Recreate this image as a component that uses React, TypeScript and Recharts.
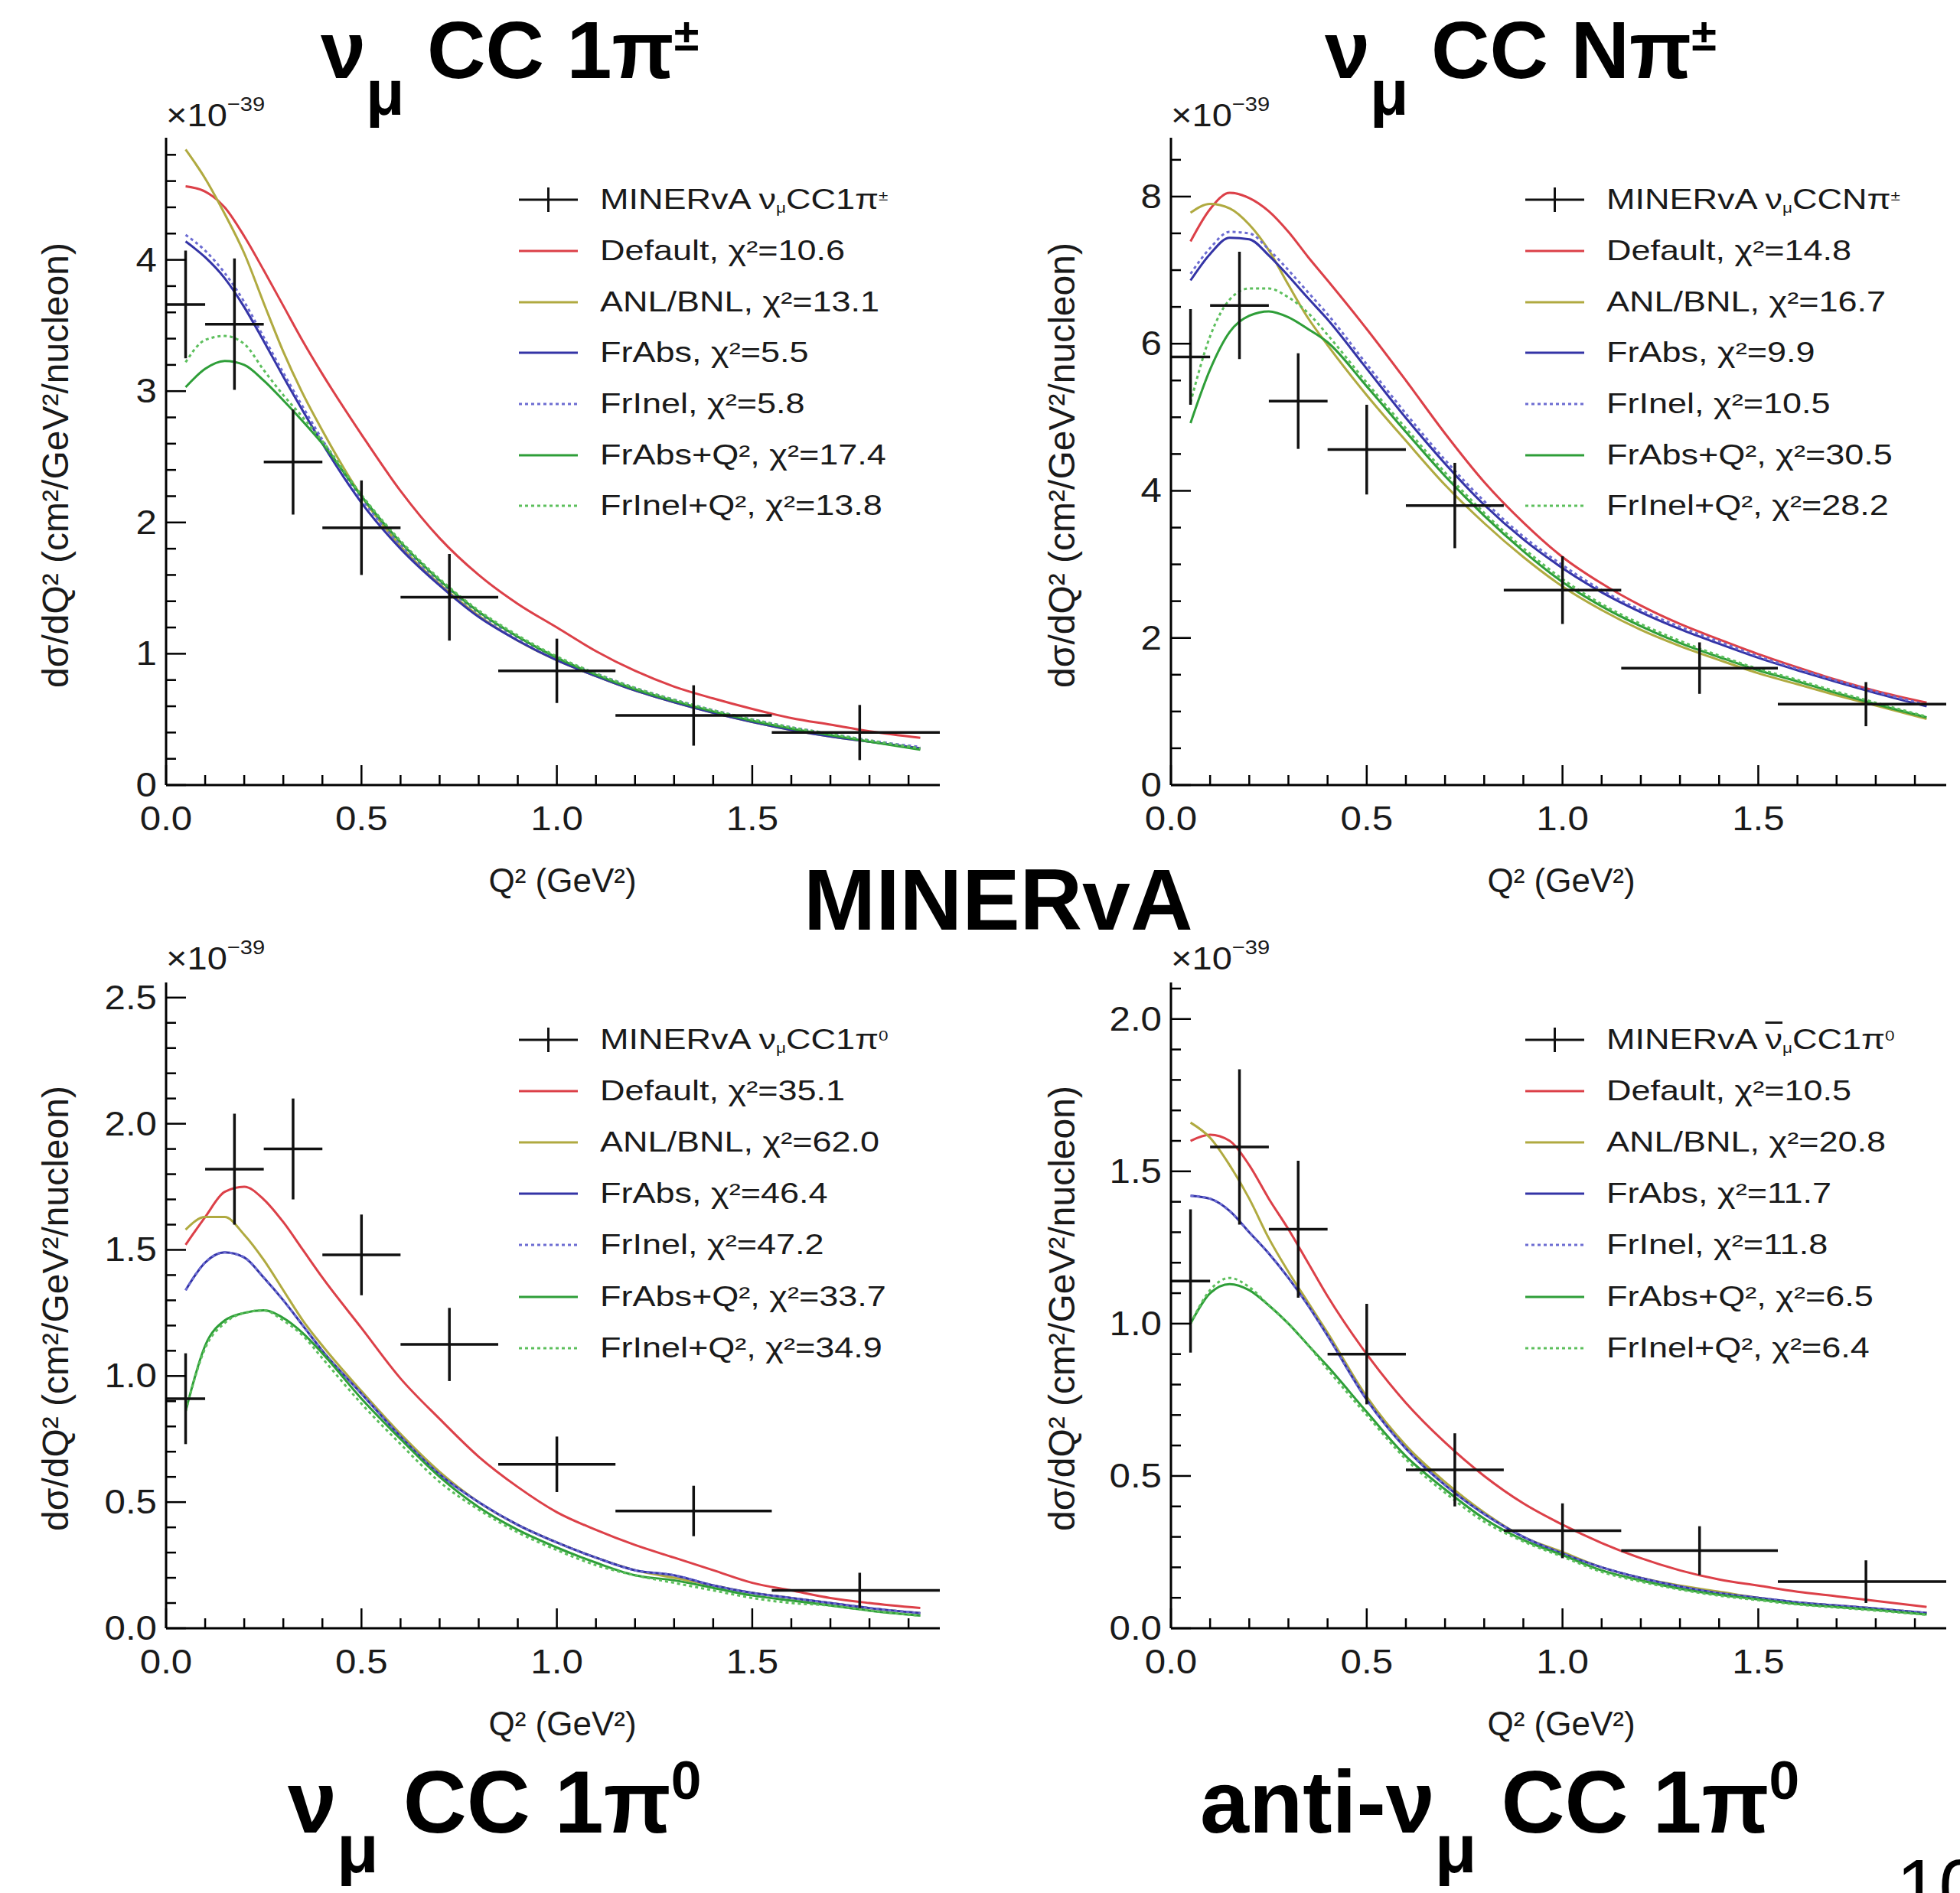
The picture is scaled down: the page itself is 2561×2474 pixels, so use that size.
import React from 'react'
import { ComposedChart, Line, Scatter, ErrorBar, XAxis, YAxis, Legend } from 'recharts'

const FONT = '"Liberation Sans", Arial, Helvetica, sans-serif'

// Q² bins of the MINERvA points (GeV²)
const BIN_CENTERS = [0.05, 0.175, 0.325, 0.5, 0.725, 1.0, 1.35, 1.775]
const BIN_HALF_WIDTHS = [0.05, 0.075, 0.075, 0.1, 0.125, 0.15, 0.2, 0.225]

const Q2_GRID = [0.05, 0.1, 0.15, 0.2, 0.25, 0.3, 0.35, 0.4, 0.5, 0.6, 0.7, 0.8, 0.9, 1.0, 1.1, 1.2, 1.3, 1.4, 1.5, 1.6, 1.7, 1.8, 1.93]

const X_TICKS = [0, 0.1, 0.2, 0.3, 0.4, 0.5, 0.6, 0.7, 0.8, 0.9, 1.0, 1.1, 1.2, 1.3, 1.4, 1.5, 1.6, 1.7, 1.8, 1.9]
const X_MAX = 1.98

// numu CC 1pi+-
const PIPM_DATA = [3.66, 3.51, 2.46, 1.96, 1.43, 0.87, 0.53, 0.4]
const PIPM_ERR = [0.41, 0.5, 0.4, 0.36, 0.33, 0.245, 0.23, 0.21]
const PIPM_DEFAULT = [4.56, 4.52, 4.4, 4.18, 3.92, 3.65, 3.38, 3.13, 2.67, 2.24, 1.88, 1.6, 1.38, 1.2, 1.02, 0.87, 0.75, 0.66, 0.58, 0.51, 0.46, 0.41, 0.36]
const PIPM_ANLBNL = [4.84, 4.62, 4.35, 4.05, 3.67, 3.3, 2.98, 2.7, 2.2, 1.82, 1.53, 1.29, 1.1, 0.95, 0.83, 0.72, 0.63, 0.55, 0.48, 0.42, 0.37, 0.33, 0.28]
const PIPM_FRABS = [4.14, 4.02, 3.86, 3.64, 3.38, 3.11, 2.85, 2.6, 2.15, 1.8, 1.52, 1.28, 1.1, 0.95, 0.83, 0.72, 0.63, 0.55, 0.48, 0.42, 0.37, 0.33, 0.28]
const PIPM_FRINEL = [4.19, 4.07, 3.9, 3.68, 3.41, 3.14, 2.88, 2.63, 2.18, 1.83, 1.55, 1.31, 1.12, 0.97, 0.85, 0.74, 0.65, 0.57, 0.5, 0.44, 0.39, 0.34, 0.29]
const PIPM_FRABS_Q2 = [3.03, 3.17, 3.23, 3.2, 3.08, 2.93, 2.77, 2.6, 2.2, 1.85, 1.56, 1.32, 1.13, 0.97, 0.84, 0.73, 0.64, 0.56, 0.49, 0.43, 0.38, 0.33, 0.27]
const PIPM_FRINEL_Q2 = [3.22, 3.39, 3.42, 3.36, 3.16, 2.97, 2.8, 2.62, 2.21, 1.86, 1.57, 1.33, 1.14, 0.98, 0.85, 0.74, 0.65, 0.57, 0.5, 0.44, 0.39, 0.34, 0.28]
const PIPM_CHI2 = ['10.6', '13.1', '5.5', '5.8', '17.4', '13.8']
const PIPM_Y_TICKS = [0, 0.2, 0.4, 0.6, 0.8, 1, 1.2, 1.4, 1.6, 1.8, 2, 2.2, 2.4, 2.6, 2.8, 3, 3.2, 3.4, 3.6, 3.8, 4, 4.2, 4.4, 4.6, 4.8]

// numu CC Npi+-
const NPI_DATA = [5.82, 6.52, 5.22, 4.56, 3.8, 2.65, 1.59, 1.1]
const NPI_ERR = [0.65, 0.73, 0.65, 0.61, 0.58, 0.46, 0.35, 0.3]
const NPI_DEFAULT = [7.39, 7.83, 8.05, 7.98, 7.8, 7.52, 7.18, 6.86, 6.2, 5.5, 4.78, 4.12, 3.57, 3.1, 2.74, 2.44, 2.19, 1.98, 1.78, 1.6, 1.43, 1.28, 1.12]
const NPI_ANLBNL = [7.78, 7.9, 7.84, 7.62, 7.27, 6.8, 6.35, 5.98, 5.3, 4.68, 4.08, 3.56, 3.1, 2.7, 2.38, 2.11, 1.89, 1.7, 1.52, 1.37, 1.22, 1.08, 0.9]
const NPI_FRABS = [6.86, 7.22, 7.44, 7.42, 7.2, 6.92, 6.62, 6.33, 5.66, 4.99, 4.37, 3.81, 3.34, 2.95, 2.62, 2.35, 2.12, 1.92, 1.73, 1.56, 1.4, 1.25, 1.07]
const NPI_FRINEL = [6.95, 7.3, 7.52, 7.5, 7.28, 7.0, 6.7, 6.4, 5.72, 5.05, 4.42, 3.86, 3.38, 2.99, 2.65, 2.38, 2.15, 1.95, 1.75, 1.58, 1.42, 1.27, 1.09]
const NPI_FRABS_Q2 = [4.92, 5.65, 6.16, 6.38, 6.44, 6.36, 6.2, 6.02, 5.42, 4.8, 4.2, 3.66, 3.18, 2.76, 2.43, 2.16, 1.93, 1.74, 1.56, 1.41, 1.25, 1.1, 0.92]
const NPI_FRINEL_Q2 = [5.2, 6.1, 6.6, 6.75, 6.75, 6.63, 6.42, 6.12, 5.47, 4.85, 4.25, 3.7, 3.22, 2.8, 2.46, 2.19, 1.96, 1.76, 1.58, 1.43, 1.27, 1.12, 0.93]
const NPI_CHI2 = ['14.8', '16.7', '9.9', '10.5', '30.5', '28.2']
const NPI_Y_TICKS = [0, 0.5, 1, 1.5, 2, 2.5, 3, 3.5, 4, 4.5, 5, 5.5, 6, 6.5, 7, 7.5, 8, 8.5]

// numu CC 1pi0
const PI0_DATA = [0.91, 1.82, 1.9, 1.48, 1.125, 0.65, 0.465, 0.15]
const PI0_ERR = [0.18, 0.22, 0.2, 0.16, 0.145, 0.11, 0.1, 0.07]
const PI0_DEFAULT = [1.52, 1.63, 1.73, 1.75, 1.7, 1.61, 1.5, 1.39, 1.19, 0.99, 0.83, 0.68, 0.56, 0.46, 0.39, 0.33, 0.28, 0.23, 0.18, 0.15, 0.12, 0.1, 0.08]
const PI0_ANLBNL = [1.58, 1.63, 1.63, 1.56, 1.46, 1.34, 1.22, 1.12, 0.94, 0.77, 0.62, 0.5, 0.41, 0.34, 0.28, 0.23, 0.2, 0.17, 0.14, 0.12, 0.1, 0.08, 0.06]
const PI0_FRABS = [1.34, 1.45, 1.49, 1.47, 1.39, 1.3, 1.2, 1.1, 0.93, 0.76, 0.61, 0.5, 0.41, 0.34, 0.28, 0.23, 0.21, 0.17, 0.14, 0.12, 0.1, 0.08, 0.06]
const PI0_FRINEL = [1.34, 1.45, 1.49, 1.47, 1.39, 1.3, 1.2, 1.1, 0.93, 0.76, 0.61, 0.5, 0.41, 0.34, 0.28, 0.23, 0.21, 0.17, 0.14, 0.12, 0.1, 0.08, 0.06]
const PI0_FRABS_Q2 = [0.86, 1.12, 1.22, 1.25, 1.26, 1.23, 1.17, 1.09, 0.91, 0.75, 0.6, 0.48, 0.39, 0.32, 0.26, 0.21, 0.19, 0.16, 0.13, 0.11, 0.09, 0.07, 0.05]
const PI0_FRINEL_Q2 = [0.86, 1.11, 1.21, 1.25, 1.26, 1.22, 1.16, 1.07, 0.89, 0.73, 0.58, 0.47, 0.38, 0.31, 0.25, 0.21, 0.18, 0.15, 0.12, 0.1, 0.09, 0.07, 0.05]
const PI0_CHI2 = ['35.1', '62.0', '46.4', '47.2', '33.7', '34.9']
const PI0_Y_TICKS = [0, 0.1, 0.2, 0.3, 0.4, 0.5, 0.6, 0.7, 0.8, 0.9, 1.0, 1.1, 1.2, 1.3, 1.4, 1.5, 1.6, 1.7, 1.8, 1.9, 2.0, 2.1, 2.2, 2.3, 2.4, 2.5]

// anti-numu CC 1pi0
const API0_DATA = [1.14, 1.58, 1.31, 0.9, 0.52, 0.32, 0.255, 0.153]
const API0_ERR = [0.235, 0.255, 0.225, 0.165, 0.12, 0.09, 0.08, 0.07]
const API0_DEFAULT = [1.6, 1.62, 1.6, 1.52, 1.41, 1.31, 1.2, 1.09, 0.9, 0.74, 0.61, 0.5, 0.41, 0.34, 0.28, 0.23, 0.19, 0.16, 0.14, 0.12, 0.105, 0.09, 0.07]
const API0_ANLBNL = [1.66, 1.61, 1.52, 1.41, 1.28, 1.17, 1.07, 0.97, 0.76, 0.6, 0.48, 0.38, 0.3, 0.25, 0.2, 0.165, 0.14, 0.12, 0.1, 0.085, 0.075, 0.065, 0.05]
const API0_FRABS = [1.42, 1.41, 1.37, 1.3, 1.23, 1.15, 1.06, 0.96, 0.75, 0.59, 0.47, 0.375, 0.3, 0.245, 0.2, 0.165, 0.137, 0.115, 0.1, 0.085, 0.075, 0.065, 0.05]
const API0_FRINEL = [1.42, 1.41, 1.37, 1.3, 1.23, 1.15, 1.06, 0.96, 0.75, 0.59, 0.47, 0.375, 0.3, 0.245, 0.2, 0.165, 0.137, 0.115, 0.1, 0.085, 0.075, 0.065, 0.05]
const API0_FRABS_Q2 = [1.0, 1.1, 1.13, 1.11, 1.06, 1.0, 0.93, 0.86, 0.71, 0.565, 0.456, 0.36, 0.29, 0.24, 0.19, 0.157, 0.13, 0.11, 0.095, 0.08, 0.07, 0.06, 0.045]
const API0_FRINEL_Q2 = [1.0, 1.11, 1.15, 1.12, 1.06, 1.0, 0.93, 0.85, 0.7, 0.555, 0.445, 0.35, 0.285, 0.235, 0.185, 0.153, 0.127, 0.107, 0.092, 0.078, 0.068, 0.058, 0.044]
const API0_CHI2 = ['10.5', '20.8', '11.7', '11.8', '6.5', '6.4']
const API0_Y_TICKS = [0, 0.1, 0.2, 0.3, 0.4, 0.5, 0.6, 0.7, 0.8, 0.9, 1.0, 1.1, 1.2, 1.3, 1.4, 1.5, 1.6, 1.7, 1.8, 1.9, 2.0, 2.1]

const MODELS = [
  { key: 'default', name: 'Default', color: '#dc4048', dash: undefined as string | undefined },
  { key: 'anl', name: 'ANL/BNL', color: '#b0aa40', dash: undefined },
  { key: 'frabs', name: 'FrAbs', color: '#3434a6', dash: undefined },
  { key: 'frinel', name: 'FrInel', color: '#6c6cd2', dash: '4 4' },
  { key: 'frabsq2', name: 'FrAbs+Q²', color: '#2e9e38', dash: undefined },
  { key: 'frinelq2', name: 'FrInel+Q²', color: '#5cbf5c', dash: '4 4' },
]

const FRAME = { stroke: '#000', strokeWidth: 3 }
const MAJOR_TICK = 26
const MINOR_TICK = 13
const X_AXIS_H = 60
const TICK_FONT = 44
const TICK_SX = 1.12
const LEGEND_FONT = 36
const LEGEND_SX = 1.25

const isMajor = (v: number, step: number) => Math.abs(v / step - Math.round(v / step)) < 1e-6

function xTick(side: 'bottom' | 'top', withLabels: boolean) {
  return (p: any) => {
    const v = p.payload.value as number
    const major = isMajor(v, 0.5)
    const dir = side === 'bottom' ? -1 : 1
    return (
      <g>
        <line x1={p.x} y1={p.y} x2={p.x} y2={p.y + dir * (major ? MAJOR_TICK : MINOR_TICK)} stroke="#000" strokeWidth={2.5} />
        {withLabels && major && (
          <text transform={`translate(${p.x},${p.y + 59}) scale(${TICK_SX},1)`} textAnchor="middle" fontSize={TICK_FONT} fontFamily={FONT} fill="#1a1a1a">
            {v.toFixed(1)}
          </text>
        )}
      </g>
    )
  }
}

function yTick(side: 'left' | 'right', step: number, digits: number, withLabels: boolean) {
  return (p: any) => {
    const v = p.payload.value as number
    const major = isMajor(v, step)
    const dir = side === 'left' ? 1 : -1
    return (
      <g>
        <line x1={p.x} y1={p.y} x2={p.x + dir * (major ? MAJOR_TICK : MINOR_TICK)} y2={p.y} stroke="#000" strokeWidth={2.5} />
        {withLabels && major && (
          <text transform={`translate(${p.x - 12},${p.y + 15}) scale(${TICK_SX},1)`} textAnchor="end" fontSize={TICK_FONT} fontFamily={FONT} fill="#1a1a1a">
            {v.toFixed(digits)}
          </text>
        )}
      </g>
    )
  }
}

type Box = { left: number; right: number; top: number; bottom: number }

type PanelProps = {
  x: number
  y: number
  width: number
  height: number
  plot: Box
  yMax: number
  yTicks: number[]
  yStep: number
  yDigits: number
  points: number[]
  errors: number[]
  curves: number[][]
  chi2: string[]
  dataLabel: React.ReactNode
  legendLeft: number
  legendTop: number
  legendRow: number
}

function PanelLegend({ chi2, dataLabel, row }: { chi2: string[]; dataLabel: React.ReactNode; row: number }) {
  const rows = [
    { key: 'data', color: '#111', dash: undefined as string | undefined, label: dataLabel, cross: true },
    ...MODELS.map((m, i) => ({ key: m.key, color: m.color, dash: m.dash, label: `${m.name}, χ²=${chi2[i]}`, cross: false })),
  ]
  return (
    <div style={{ fontFamily: FONT, fontSize: LEGEND_FONT, color: '#1a1a1a' }}>
      {rows.map((r) => (
        <div key={r.key} style={{ display: 'flex', alignItems: 'center', height: row }}>
          <svg width={77} height={40} style={{ flex: 'none' }}>
            <line x1={0} y1={20} x2={77} y2={20} stroke={r.color} strokeWidth={3} strokeDasharray={r.dash} />
            {r.cross && <line x1={38.5} y1={4} x2={38.5} y2={36} stroke={r.color} strokeWidth={3} />}
          </svg>
          <span
            style={{
              display: 'inline-block',
              marginLeft: 29,
              whiteSpace: 'nowrap',
              lineHeight: 1,
              transform: `scaleX(${LEGEND_SX})`,
              transformOrigin: 'left center',
            }}
          >
            {r.label}
          </span>
        </div>
      ))}
    </div>
  )
}

function Panel(props: PanelProps) {
  const { x, y, width, height, plot, yMax, yTicks, yStep, yDigits, points, errors, curves, chi2, dataLabel } = props
  const margin = { top: plot.top, left: 0, right: width - plot.right, bottom: height - plot.bottom - X_AXIS_H }
  // horizontal bars are cut at the frame edge, like the original
  const pts = BIN_CENTERS.map((q, i) => ({
    x: q,
    y: points[i],
    ex: [BIN_HALF_WIDTHS[i], Math.min(BIN_HALF_WIDTHS[i], X_MAX - q)],
    ey: errors[i],
  }))

  return (
    <div style={{ position: 'absolute', left: x, top: y }}>
      <ComposedChart width={width} height={height} margin={margin}>
        <XAxis
          xAxisId="b"
          dataKey="x"
          type="number"
          domain={[0, X_MAX]}
          allowDataOverflow
          ticks={X_TICKS}
          interval={0}
          height={X_AXIS_H}
          tickSize={0}
          tickMargin={0}
          tickLine={false}
          axisLine={FRAME}
          tick={xTick('bottom', true)}
        />
        <XAxis
          xAxisId="t"
          orientation="top"
          type="number"
          domain={[0, X_MAX]}
          allowDataOverflow
          ticks={X_TICKS}
          interval={0}
          height={0}
          tickSize={0}
          tickMargin={0}
          tickLine={false}
          axisLine={FRAME}
          tick={xTick('top', false)}
        />
        <YAxis
          yAxisId="l"
          dataKey="y"
          type="number"
          domain={[0, yMax]}
          allowDataOverflow
          ticks={yTicks}
          interval={0}
          width={plot.left}
          tickSize={0}
          tickMargin={0}
          tickLine={false}
          axisLine={FRAME}
          tick={yTick('left', yStep, yDigits, true)}
        />
        <YAxis
          yAxisId="r"
          orientation="right"
          type="number"
          domain={[0, yMax]}
          allowDataOverflow
          ticks={yTicks}
          interval={0}
          width={0}
          tickSize={0}
          tickMargin={0}
          tickLine={false}
          axisLine={FRAME}
          tick={yTick('right', yStep, yDigits, false)}
        />
        {MODELS.map((m, i) => (
          <Line
            key={m.key}
            xAxisId="b"
            yAxisId="l"
            data={Q2_GRID.map((q, j) => ({ x: q, y: curves[i][j] }))}
            dataKey="y"
            type="monotone"
            stroke={m.color}
            strokeWidth={3}
            strokeDasharray={m.dash}
            dot={false}
            activeDot={false}
            isAnimationActive={false}
          />
        ))}
        <Scatter xAxisId="b" yAxisId="l" data={pts} dataKey="y" shape={() => <g />} isAnimationActive={false}>
          <ErrorBar dataKey="ex" direction="x" width={0} stroke="#111" strokeWidth={3.5} isAnimationActive={false} />
          <ErrorBar dataKey="ey" direction="y" width={0} stroke="#111" strokeWidth={3.5} isAnimationActive={false} />
        </Scatter>
        <Legend
          layout="vertical"
          align="center"
          verticalAlign="middle"
          wrapperStyle={{ left: props.legendLeft, top: props.legendTop, width: 'auto', height: 'auto' }}
          content={() => <PanelLegend chi2={chi2} dataLabel={dataLabel} row={props.legendRow} />}
        />
      </ComposedChart>
    </div>
  )
}

const sub = (t: string) => <span style={{ fontSize: '0.5em', verticalAlign: '-0.25em', lineHeight: 0 }}>{t}</span>
const sup = (t: string) => <span style={{ fontSize: '0.5em', verticalAlign: '0.6em', lineHeight: 0 }}>{t}</span>

function Abs({ left, top, children, style }: { left: number; top: number; children: React.ReactNode; style?: React.CSSProperties }) {
  return <div style={{ position: 'absolute', left, top, whiteSpace: 'nowrap', lineHeight: 1, ...style }}>{children}</div>
}

// places a bold slide title by its baseline (tight line box)
function SlideTitle({ left, baseline, size, children }: { left: number; baseline: number; size: number; children: React.ReactNode }) {
  return (
    <Abs left={left} top={baseline - 0.7215 * size} style={{ fontSize: size, lineHeight: 0.75, fontWeight: 700, color: '#000', fontFamily: FONT }}>
      {children}
    </Abs>
  )
}

function TitleSub({ size, children }: { size: number; children: React.ReactNode }) {
  return <span style={{ fontSize: size * 0.78, verticalAlign: -size * 0.45, lineHeight: 0 }}>{children}</span>
}
function TitleSup({ size, children, scale = 0.56, raise = 0.34 }: { size: number; children: React.ReactNode; scale?: number; raise?: number }) {
  return <span style={{ fontSize: size * scale, verticalAlign: size * raise, lineHeight: 0 }}>{children}</span>
}

function Exponent({ left, baseline }: { left: number; baseline: number }) {
  return (
    <Abs left={left} top={baseline - 0.8465 * 42} style={{ fontSize: 42, color: '#1a1a1a', fontFamily: FONT, transform: 'scaleX(1.12)', transformOrigin: 'left' }}>
      ×10<span style={{ fontSize: 26, verticalAlign: 20, lineHeight: 0 }}>−39</span>
    </Abs>
  )
}

function YTitle({ cx, cy }: { cx: number; cy: number }) {
  return (
    <Abs left={cx} top={cy} style={{ fontSize: 48, color: '#1a1a1a', fontFamily: FONT, transform: 'translate(-50%,-50%) rotate(-90deg)' }}>
      dσ/dQ² (cm²/GeV²/nucleon)
    </Abs>
  )
}

function XTitle({ cx, baseline }: { cx: number; baseline: number }) {
  return (
    <Abs left={cx} top={baseline - 0.8465 * 44} style={{ fontSize: 44, color: '#1a1a1a', fontFamily: FONT, transform: 'translateX(-50%)' }}>
      Q² (GeV²)
    </Abs>
  )
}

const TOP_PLOT_L: Box = { left: 217, right: 1228, top: 180, bottom: 1026 }
const TOP_PLOT_R: Box = { left: 250, right: 1263, top: 180, bottom: 1026 }
const BOT_PLOT_L: Box = { left: 217, right: 1228, top: 104, bottom: 948 }
const BOT_PLOT_R: Box = { left: 250, right: 1263, top: 104, bottom: 948 }

export default function App() {
  const T = 106
  const B = 115
  return (
    <div style={{ position: 'absolute', left: 0, top: 0, width: 2561, height: 2474, background: '#fff', overflow: 'hidden', fontFamily: FONT }}>
      <Panel
        x={0} y={0} width={1280} height={1180} plot={TOP_PLOT_L}
        yMax={4.93} yTicks={PIPM_Y_TICKS} yStep={1} yDigits={0}
        points={PIPM_DATA} errors={PIPM_ERR}
        curves={[PIPM_DEFAULT, PIPM_ANLBNL, PIPM_FRABS, PIPM_FRINEL, PIPM_FRABS_Q2, PIPM_FRINEL_Q2]}
        chi2={PIPM_CHI2}
        dataLabel={<>MINERvA ν{sub('μ')}CC1π{sup('±')}</>}
        legendLeft={678} legendTop={228} legendRow={66.7}
      />
      <Panel
        x={1280} y={0} width={1281} height={1180} plot={TOP_PLOT_R}
        yMax={8.8} yTicks={NPI_Y_TICKS} yStep={2} yDigits={0}
        points={NPI_DATA} errors={NPI_ERR}
        curves={[NPI_DEFAULT, NPI_ANLBNL, NPI_FRABS, NPI_FRINEL, NPI_FRABS_Q2, NPI_FRINEL_Q2]}
        chi2={NPI_CHI2}
        dataLabel={<>MINERvA ν{sub('μ')}CCNπ{sup('±')}</>}
        legendLeft={713} legendTop={228} legendRow={66.7}
      />
      <Panel
        x={0} y={1180} width={1280} height={1294} plot={BOT_PLOT_L}
        yMax={2.56} yTicks={PI0_Y_TICKS} yStep={0.5} yDigits={1}
        points={PI0_DATA} errors={PI0_ERR}
        curves={[PI0_DEFAULT, PI0_ANLBNL, PI0_FRABS, PI0_FRINEL, PI0_FRABS_Q2, PI0_FRINEL_Q2]}
        chi2={PI0_CHI2}
        dataLabel={<>MINERvA ν{sub('μ')}CC1π{sup('0')}</>}
        legendLeft={678} legendTop={145} legendRow={67.2}
      />
      <Panel
        x={1280} y={1180} width={1281} height={1294} plot={BOT_PLOT_R}
        yMax={2.12} yTicks={API0_Y_TICKS} yStep={0.5} yDigits={1}
        points={API0_DATA} errors={API0_ERR}
        curves={[API0_DEFAULT, API0_ANLBNL, API0_FRABS, API0_FRINEL, API0_FRABS_Q2, API0_FRINEL_Q2]}
        chi2={API0_CHI2}
        dataLabel={<>MINERvA <span style={{ textDecoration: 'overline' }}>ν</span>{sub('μ')}CC1π{sup('0')}</>}
        legendLeft={713} legendTop={145} legendRow={67.2}
      />

      <Exponent left={217} baseline={166} />
      <Exponent left={1530} baseline={166} />
      <Exponent left={217} baseline={1268} />
      <Exponent left={1530} baseline={1268} />

      <YTitle cx={73} cy={608} />
      <YTitle cx={1388} cy={608} />
      <YTitle cx={73} cy={1710} />
      <YTitle cx={1388} cy={1710} />

      <XTitle cx={735} baseline={1166} />
      <XTitle cx={2040} baseline={1166} />
      <XTitle cx={735} baseline={2268} />
      <XTitle cx={2040} baseline={2268} />

      <SlideTitle left={419} baseline={102} size={T}>
        ν<TitleSub size={T}>μ</TitleSub> CC 1π<TitleSup size={T}>±</TitleSup>
      </SlideTitle>
      <SlideTitle left={1731} baseline={102} size={T}>
        ν<TitleSub size={T}>μ</TitleSub> CC Nπ<TitleSup size={T}>±</TitleSup>
      </SlideTitle>
      <SlideTitle left={1050} baseline={1216} size={113}>
        MINERvA
      </SlideTitle>
      <SlideTitle left={376} baseline={2395} size={B}>
        ν<TitleSub size={B}>μ</TitleSub> CC 1π<TitleSup size={B} scale={0.62} raise={0.38}>0</TitleSup>
      </SlideTitle>
      <SlideTitle left={1568} baseline={2395} size={B}>
        anti-ν<TitleSub size={B}>μ</TitleSub> CC 1π<TitleSup size={B} scale={0.62} raise={0.38}>0</TitleSup>
      </SlideTitle>
      <Abs left={2478} top={2500 - 0.8465 * 100} style={{ fontSize: 100, color: '#000', fontFamily: FONT }}>
        10
      </Abs>
    </div>
  )
}
